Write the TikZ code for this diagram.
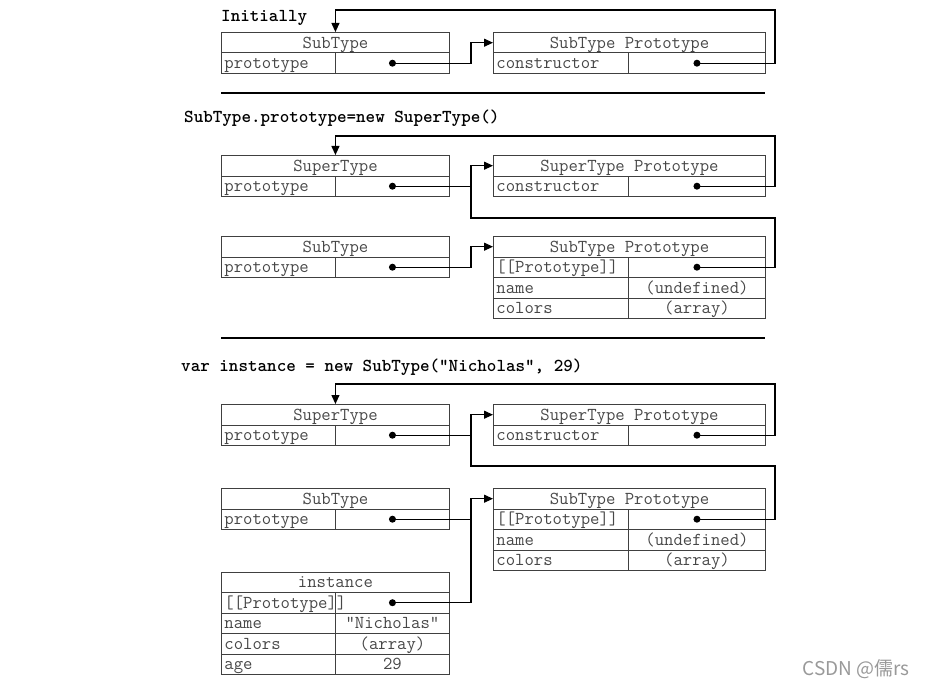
\documentclass[tikz,border=0pt]{standalone}
\usepackage{fontspec}
\newfontfamily\cjk{Noto Sans CJK SC}
\usetikzlibrary{arrows.meta}
\colorlet{boxc}{black!75}
\colorlet{txtc}{black!72}
\newcommand\monof{\ttfamily\fontsize{18.2pt}{20pt}\selectfont}
\tikzset{
  cellbase/.style={draw=boxc, line width=0.9pt, inner sep=0pt, minimum height=20.5pt,
    font=\monof, text=txtc, text height=12pt, text depth=0.5pt},
  keyL/.style={cellbase, text width=108pt, align=left, inner xsep=3pt},
  keyR/.style={cellbase, text width=129pt, align=left, inner xsep=3pt},
  valcell/.style={cellbase},
  dot/.style={circle, fill=black, inner sep=0pt, minimum size=7pt},
  conn/.style={line width=1.1pt, draw=black},
  arr/.style={-{Triangle[length=9pt,width=8pt]}},
  title/.style={font=\monof\bfseries, anchor=west, inner sep=0pt, text=black},
  rule/.style={line width=2.6pt, draw=black},
}
\newcommand\objhead[5]{\node[cellbase, anchor=north west, minimum width=#4] (#1) at (#2,#3) {#5};}
\newcommand\objrowL[5]{%
  \node[keyL, anchor=north west] (#1k) at (#2,#3) {#4};
  \node[valcell, anchor=north west, minimum width=114pt] (#1v) at (#2+114,#3) {#5};}
\newcommand\objrowR[5]{%
  \node[keyR, anchor=north west] (#1k) at (#2,#3) {#4};
  \node[valcell, anchor=north west, minimum width=137pt] (#1v) at (#2+135,#3) {#5};}
\begin{document}
\begin{tikzpicture}[x=1pt,y=-1pt]
\useasboundingbox (0,0) rectangle (925,687);
\coordinate (j) at (471,0);

% ---------- Section 1 ----------
\node[title] (t1) at (221,17.5) {Initially};
\objhead{a1}{221}{32}{228pt}{SubType}
\objrowL{a1p}{221}{52.5}{prototype}{}
\objhead{b1}{493}{32}{272pt}{SubType Prototype}
\objrowR{b1c}{493}{52.5}{constructor}{}
\node[dot] (a1d) at (a1pv.center) {};
\node[dot] (b1d) at (b1cv.center) {};
\coordinate (r1) at (775,10);
\draw[conn,arr] (a1d.center) -- (a1d.center -| j) |- (b1.west);
\draw[conn,arr] (b1d.center) -| (r1) -| (a1.north);
\coordinate (h1a) at (221,93);
\coordinate (h1b) at (765,93);
\draw[rule] (h1a) -- (h1b);

% ---------- Section 2 ----------
\node[title] (t2) at (184,118.5) {SubType.prototype=new SuperType()};
\objhead{a2}{221}{155}{228pt}{SuperType}
\objrowL{a2p}{221}{175.5}{prototype}{}
\objhead{b2}{493}{155}{272pt}{SuperType Prototype}
\objrowR{b2c}{493}{175.5}{constructor}{}
\objhead{c2}{221}{236}{228pt}{SubType}
\objrowL{c2p}{221}{256.5}{prototype}{}
\objhead{e2}{493}{236}{272pt}{SubType Prototype}
\objrowR{e2p}{493}{256.5}{[[Prototype]]}{}
\objrowR{e2n}{493}{277}{name}{(undefined)}
\objrowR{e2c}{493}{297.5}{colors}{(array)}
\node[dot] (a2d) at (a2pv.center) {};
\node[dot] (b2d) at (b2cv.center) {};
\node[dot] (c2d) at (c2pv.center) {};
\node[dot] (e2d) at (e2pv.center) {};
\coordinate (r2a) at (775,136);
\coordinate (r2b) at (775,218);
\coordinate (k2b) at (471,218);
\draw[conn,arr] (b2d.center) -| (r2a) -| (a2.north);
\draw[conn,arr] (e2d.center) -| (r2b) -- (k2b) |- (b2.west);
\draw[conn] (a2d.center) -- (a2d.center -| j);
\draw[conn,arr] (c2d.center) -- (c2d.center -| j) |- (e2.west);
\coordinate (h2a) at (221,338);
\coordinate (h2b) at (765,338);
\draw[rule] (h2a) -- (h2b);

% ---------- Section 3 ----------
\node[title] (t3) at (181,367.5) {var instance = new SubType("Nicholas", 29)};
\objhead{a3}{221}{404}{228pt}{SuperType}
\objrowL{a3p}{221}{424.5}{prototype}{}
\objhead{b3}{493}{404}{272pt}{SuperType Prototype}
\objrowR{b3c}{493}{424.5}{constructor}{}
\objhead{c3}{221}{488}{228pt}{SubType}
\objrowL{c3p}{221}{508.5}{prototype}{}
\objhead{e3}{493}{488}{272pt}{SubType Prototype}
\objrowR{e3p}{493}{508.5}{[[Prototype]]}{}
\objrowR{e3n}{493}{529}{name}{(undefined)}
\objrowR{e3c}{493}{549.5}{colors}{(array)}
\objhead{f3}{221}{571.5}{228pt}{instance}
\objrowL{f3p}{221}{592}{[[Prototype]]}{}
\objrowL{f3n}{221}{612.5}{name}{"Nicholas"}
\objrowL{f3c}{221}{633}{colors}{(array)}
\objrowL{f3a}{221}{653.5}{age}{29}
\node[dot] (a3d) at (a3pv.center) {};
\node[dot] (b3d) at (b3cv.center) {};
\node[dot] (c3d) at (c3pv.center) {};
\node[dot] (e3d) at (e3pv.center) {};
\node[dot] (f3d) at (f3pv.center) {};
\coordinate (r3a) at (775,384);
\coordinate (r3b) at (775,466);
\coordinate (k3b) at (471,466);
\draw[conn,arr] (b3d.center) -| (r3a) -| (a3.north);
\draw[conn,arr] (e3d.center) -| (r3b) -- (k3b) |- (b3.west);
\draw[conn] (a3d.center) -- (a3d.center -| j);
\draw[conn] (c3d.center) -- (c3d.center -| j);
\draw[conn,arr] (f3d.center) -- (f3d.center -| j) |- (e3.west);

% watermark
\node[font=\cjk\fontsize{19pt}{22pt}\selectfont, text=black!40, anchor=east, inner sep=0pt] (wm) at (910,669) {CSDN @儒rs};
\end{tikzpicture}
\end{document}
